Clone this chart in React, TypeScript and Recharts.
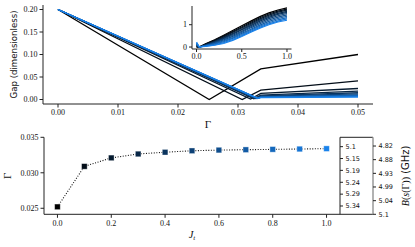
import React from 'react';
import { LineChart, Line, XAxis, YAxis, ComposedChart, ReferenceLine, Label } from 'recharts';

// ---------- data ----------
const jValues = [0, 0.1, 0.2, 0.3, 0.4, 0.5, 0.6, 0.7, 0.8, 0.9, 1.0];
const gammaCrit = [0.0252, 0.0309, 0.0321, 0.03265, 0.0329, 0.0331, 0.0332, 0.03325, 0.0333, 0.03335, 0.0334];

// top panel: gap vs Gamma, one curve per J_t
const gapGamma = [
  [0, 0.0252, 0.0338, 0.05],
  [0, 0.0307, 0.0338, 0.05],
  [0, 0.0321, 0.0338, 0.05],
  [0, 0.03265, 0.0338, 0.05],
  [0, 0.0329, 0.0338, 0.05],
  [0, 0.0331, 0.0338, 0.05],
  [0, 0.0332, 0.0338, 0.05],
  [0, 0.0332, 0.0338, 0.05],
  [0, 0.0333, 0.0338, 0.05],
  [0, 0.0333, 0.0338, 0.05],
  [0, 0.0333, 0.0338, 0.05],
];
const gapValues = [
  [0.2, 0.0, 0.068, 0.1],
  [0.2, 0.0, 0.0207, 0.0415],
  [0.2, 0.001, 0.0135, 0.0244],
  [0.2, 0.0015, 0.0095, 0.0185],
  [0.2, 0.002, 0.008, 0.015],
  [0.2, 0.002, 0.0068, 0.0125],
  [0.2, 0.0022, 0.006, 0.0105],
  [0.2, 0.0024, 0.0054, 0.009],
  [0.2, 0.0025, 0.005, 0.0078],
  [0.2, 0.0026, 0.0046, 0.0068],
  [0.2, 0.0027, 0.0043, 0.0055],
];

// inset curves
const insetX = [0, 0.03, 0.1, 0.2, 0.3, 0.4, 0.5, 0.6, 0.7, 0.8, 0.9, 1.0];
const insetCurves = [
  [0.0, 0.0, 0.15, 0.33, 0.53, 0.74, 0.95, 1.16, 1.36, 1.53, 1.66, 1.75],
  [0.02, 0.0, 0.13, 0.30, 0.49, 0.69, 0.90, 1.11, 1.31, 1.48, 1.61, 1.70],
  [0.04, 0.0, 0.11, 0.27, 0.45, 0.65, 0.85, 1.06, 1.26, 1.43, 1.56, 1.65],
  [0.06, 0.0, 0.10, 0.25, 0.42, 0.61, 0.80, 1.01, 1.21, 1.38, 1.51, 1.60],
  [0.08, 0.0, 0.09, 0.23, 0.39, 0.57, 0.76, 0.96, 1.16, 1.33, 1.46, 1.55],
  [0.10, 0.0, 0.08, 0.21, 0.36, 0.53, 0.71, 0.91, 1.10, 1.27, 1.40, 1.50],
  [0.12, 0.0, 0.07, 0.18, 0.32, 0.48, 0.66, 0.86, 1.04, 1.21, 1.34, 1.44],
  [0.14, 0.0, 0.06, 0.15, 0.28, 0.43, 0.61, 0.80, 0.98, 1.15, 1.28, 1.38],
  [0.17, 0.0, 0.05, 0.13, 0.24, 0.39, 0.56, 0.75, 0.93, 1.09, 1.22, 1.32],
  [0.19, 0.01, 0.04, 0.10, 0.20, 0.34, 0.51, 0.70, 0.88, 1.04, 1.16, 1.26],
  [0.22, 0.01, 0.03, 0.08, 0.16, 0.30, 0.47, 0.66, 0.84, 1.00, 1.12, 1.20],
];

// ticks
const topXTicks = [0, 0.01, 0.02, 0.03, 0.04, 0.05];
const topYTicks = [0, 0.05, 0.1, 0.15, 0.2];
const insetXTicks = [0, 0.5, 1.0];
const insetYTicks = [0, 1];
const botXTicks = [0, 0.2, 0.4, 0.6, 0.8, 1.0];
const botYTicks = [0.025, 0.03, 0.035];
const innerTickPos = [0.03368, 0.03201, 0.03034, 0.02866, 0.02699, 0.02532];
const innerTickLabels = ['5.1', '5.15', '5.19', '5.24', '5.29', '5.34'];
const outerTickPos = [0.03377, 0.03185, 0.02992, 0.028, 0.02607, 0.02415];
const outerTickLabels = ['4.82', '4.88', '4.93', '4.99', '5.04', '5.1'];

// ---------- styles ----------
const blend = (i: number, n: number) => {
  const t = n > 1 ? i / (n - 1) : 0;
  return `rgb(${Math.round(25 * t)},${Math.round(130 * t)},${Math.round(235 * t)})`;
};
const SERIF = 'Liberation Serif';
const SANS = 'DejaVu Sans';
const spine = { stroke: '#222', strokeWidth: 1 };
const graySpine = { stroke: '#999', strokeWidth: 1.5 };

const lookup = (pos: number[], labels: string[]) => (v: number) => {
  let best = 0;
  for (let k = 1; k < pos.length; k++) if (Math.abs(pos[k] - v) < Math.abs(pos[best] - v)) best = k;
  return labels[best];
};

type Fmt = (v: number) => string;
const xTick = (fmt: Fmt, size = 8) => (props: any) => {
  const { x, y, payload } = props;
  return (
    <text x={x} y={y} dy={size * 0.72} textAnchor="middle" fontFamily={SERIF} fontSize={size} fill="#111">
      {fmt(payload.value)}
    </text>
  );
};
const yTickLeft = (fmt: Fmt, size = 8) => (props: any) => {
  const { x, y, payload } = props;
  return (
    <text x={x} y={y} dy={size * 0.34} textAnchor="end" fontFamily={SERIF} fontSize={size} fill="#111">
      {fmt(payload.value)}
    </text>
  );
};
const yTickRight = (fmt: Fmt, size = 6.5) => (props: any) => {
  const { x, y, payload } = props;
  return (
    <text x={x} y={y} dy={size * 0.36} textAnchor="start" fontFamily={SANS} fontSize={size} fill="#111">
      {fmt(payload.value)}
    </text>
  );
};

const vTitle = (dx: number, children: React.ReactNode, size: number, family: string) => (props: any) => {
  const vb = props.viewBox || { x: 0, y: 0, width: 0, height: 0 };
  const cx = vb.x + dx;
  const cy = vb.y + vb.height / 2;
  return (
    <text x={cx} y={cy} transform={`rotate(-90 ${cx} ${cy})`} textAnchor="middle" dominantBaseline="central"
      fontSize={size} fontFamily={family} fill="#111">{children}</text>
  );
};
const hTitle = (dy: number, children: React.ReactNode, size: number) => (props: any) => {
  const vb = props.viewBox || { x: 0, y: 0, width: 0, height: 0 };
  return (
    <text x={vb.x + vb.width / 2} y={vb.y + dy} textAnchor="middle" fontSize={size} fontFamily={SERIF} fill="#111">{children}</text>
  );
};

const SquareDot = (props: any) => {
  const { cx, cy, index } = props;
  if (cx == null || cy == null) return null;
  const s = 5.6;
  return (
    <rect key={`sq-${index}`} x={cx - s / 2} y={cy - s / 2} width={s} height={s} fill={blend(index, jValues.length)}
      stroke="rgba(255,255,255,0.45)" strokeWidth={0.8} />
  );
};

const f2 = (v: number) => v.toFixed(2);
const f1 = (v: number) => v.toFixed(1);
const f3 = (v: number) => v.toFixed(3);
const f0 = (v: number) => v.toFixed(0);

export default function App() {
  const topSeries = gapGamma.map((gs, i) => gs.map((g, k) => ({ x: g, y: gapValues[i][k] })));
  const insetSeries = insetCurves.map((c) => c.map((v, k) => ({ x: insetX[k], y: v })));
  const botData = jValues.map((j, i) => ({ j, g: gammaCrit[i] }));

  return (
    <div style={{ position: 'absolute', left: 0, top: 0, width: 415, height: 247, background: '#fff' }}>
      {/* top panel */}
      <div style={{ position: 'absolute', left: 0, top: 0 }}>
        <LineChart width={415} height={130} margin={{ top: 5, right: 42, bottom: 0, left: 0 }}>
          <XAxis type="number" dataKey="x" domain={[-0.0025, 0.0525]} ticks={topXTicks} allowDataOverflow interval={0}
            height={26} tick={xTick(f2)} tickSize={3.5} tickMargin={2}
            axisLine={spine} tickLine={spine}>
            <Label content={hTitle(24, 'Γ', 11)} />
          </XAxis>
          <XAxis xAxisId="top" orientation="top" type="number" domain={[-0.0025, 0.0525]} height={0}
            tick={false} tickLine={false} axisLine={spine} />
          <YAxis type="number" domain={[-0.01, 0.21]} ticks={topYTicks} allowDataOverflow width={43} interval={0}
            tick={yTickLeft(f2)} tickSize={3.5} tickMargin={2}
            axisLine={spine} tickLine={spine}>
            <Label content={vTitle(14, 'Gap (dimensionless)', 8.6, SANS)} />
          </YAxis>
          <YAxis yAxisId="r" orientation="right" width={0} domain={[0, 1]} tick={false} tickLine={false} axisLine={graySpine} />
          {topSeries.map((d, i) => (
            <Line key={i} data={d} dataKey="y" type="linear" stroke={blend(i, topSeries.length)} strokeWidth={1.3}
              dot={false} isAnimationActive={false} />
          ))}
        </LineChart>
      </div>

      {/* inset */}
      <div style={{ position: 'absolute', left: 170, top: 0 }}>
        <LineChart width={127} height={64} margin={{ top: 6, right: 5.5, bottom: 0, left: 0 }}>
          <XAxis type="number" dataKey="x" domain={[-0.05, 1.05]} ticks={insetXTicks} allowDataOverflow interval={0}
            height={15} tick={xTick(f1)} tickSize={3} tickMargin={1.5}
            axisLine={spine} tickLine={spine} />
          <XAxis xAxisId="top" orientation="top" type="number" domain={[-0.05, 1.05]} height={0}
            tick={false} tickLine={false} axisLine={spine} />
          <YAxis type="number" domain={[-0.0875, 1.8375]} ticks={insetYTicks} allowDataOverflow width={22} interval={0}
            tick={yTickLeft(f0)} tickSize={3} tickMargin={2} axisLine={spine} tickLine={spine} />
          <YAxis yAxisId="r" orientation="right" width={0} domain={[0, 1]} tick={false} tickLine={false} axisLine={spine} />
          {insetSeries.map((d, i) => (
            <Line key={i} data={d} dataKey="y" type="linear" stroke={blend(i, insetSeries.length)} strokeWidth={1.2}
              dot={false} isAnimationActive={false} />
          ))}
        </LineChart>
      </div>

      {/* bottom panel */}
      <div style={{ position: 'absolute', left: 0, top: 130 }}>
        <ComposedChart width={415} height={117} margin={{ top: 7.3, right: 0, bottom: 0, left: 0 }}>
          <XAxis type="number" dataKey="j" domain={[-0.05, 1.05]} ticks={botXTicks} allowDataOverflow interval={0}
            height={32.7} tick={xTick(f1)} tickSize={3.5} tickMargin={2}
            axisLine={spine} tickLine={spine}>
            <Label content={hTitle(23.5, (<tspan fontStyle="italic">J<tspan fontSize={7} dy={2.5}>t</tspan></tspan>), 10.5)} />
          </XAxis>
          <XAxis xAxisId="top" orientation="top" type="number" domain={[-0.05, 1.05]} height={0}
            tick={false} tickLine={false} axisLine={spine} />
          <YAxis yAxisId="l" type="number" domain={[0.02415, 0.035]} ticks={botYTicks} allowDataOverflow width={44} interval={0}
            tick={yTickLeft(f3)} tickSize={3.5} tickMargin={2}
            axisLine={spine} tickLine={spine}>
            <Label content={vTitle(7, 'Γ', 11, SERIF)} />
          </YAxis>
          <YAxis yAxisId="r1" orientation="right" type="number" domain={[0.02415, 0.035]} ticks={innerTickPos} allowDataOverflow
            width={33} interval={0} tick={yTickRight(lookup(innerTickPos, innerTickLabels))} tickSize={3} tickMargin={2.5}
            axisLine={spine} tickLine={spine} />
          <YAxis yAxisId="r2" orientation="right" type="number" domain={[0.02415, 0.035]} ticks={outerTickPos} allowDataOverflow
            width={42} interval={0} tick={yTickRight(lookup(outerTickPos, outerTickLabels))} tickSize={3} tickMargin={2.5}
            axisLine={graySpine} tickLine={spine}>
            <Label content={vTitle(32, (
              <>
                <tspan fontFamily={SERIF} fontStyle="italic">B</tspan>
                <tspan fontFamily={SERIF}>(</tspan>
                <tspan fontFamily={SERIF} fontStyle="italic">s</tspan>
                <tspan fontFamily={SERIF}>(Γ))</tspan>
                <tspan fontFamily={SANS}> (GHz)</tspan>
              </>
            ), 10, SANS)} />
          </YAxis>
          <ReferenceLine yAxisId="l" segment={[{ x: 1.05, y: 0.035 }, { x: 1.1726, y: 0.035 }]} ifOverflow="visible" stroke="#222" strokeWidth={1} />
          <ReferenceLine yAxisId="l" segment={[{ x: 1.05, y: 0.02415 }, { x: 1.1726, y: 0.02415 }]} ifOverflow="visible" stroke="#222" strokeWidth={1} />
          <Line yAxisId="l" data={botData} dataKey="g" type="linear" stroke="#111" strokeWidth={1.1} strokeDasharray="1 1.6"
            dot={(p: any) => <SquareDot {...p} key={`d-${p.index}`} />} isAnimationActive={false} />
        </ComposedChart>
      </div>
    </div>
  );
}
